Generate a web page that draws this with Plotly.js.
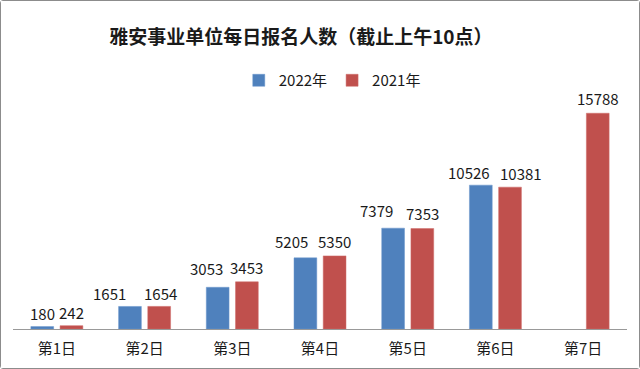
<!DOCTYPE html>
<html>
<head>
<meta charset="utf-8">
<script src="https://cdn.plot.ly/plotly-3.0.1.min.js"></script>
<style>
html,body{margin:0;padding:0;background:#fff;}
#chart{width:638px;height:367px;border:1px solid #8c8c8c;border-radius:3px;}
</style>
</head>
<body>
<div id="chart"></div>
<script>
const categories = ["第1日","第2日","第3日","第4日","第5日","第6日","第7日"];
const values2022 = [180,1651,3053,5205,7379,10526,null];
const values2021 = [242,1654,3453,5350,7353,10381,15788];
const seriesNames = ["2022年","2021年"];

// label nudges (pixels), as placed in the reference
const dx2022 = [0,-20,-11,-14,-17,-12,0];
const dy2022 = [13,13,19,16,18,13,0];
const dx2021 = [0,1,0,0,0,11,0];
const dy2021 = [13,13,14,14,15,14,15];

const font = '"Noto Sans CJK SC", "Noto Sans", sans-serif';
const barHalf = 14.6;

const traces = [
  {type:'bar', name:seriesNames[0], x:categories, y:values2022,
   marker:{color:'#4F81BD', line:{color:'#6a96cc', width:0.5}}},
  {type:'bar', name:seriesNames[1], x:categories, y:values2021,
   marker:{color:'#C0504D', line:{color:'#cf6d6a', width:0.5}}}
];

const annotations = [];
[[values2022, dx2022, dy2022, -barHalf],[values2021, dx2021, dy2021, barHalf]].forEach(([vals, dx, dy, off]) => {
  vals.forEach((v, i) => {
    if (v == null) return;
    annotations.push({x:categories[i], y:v, xref:'x', yref:'y', text:String(v), showarrow:false,
      xanchor:'center', yanchor:'middle', xshift:off + dx[i], yshift:dy[i],
      font:{size:15, color:'#1a1a1a', family:font}});
  });
});

const layout = {
  width:638, height:367,
  margin:{l:12, r:12, t:82, b:39},
  paper_bgcolor:'#fff', plot_bgcolor:'#fff',
  font:{family:font, color:'#333'},
  title:{text:'<b>雅安事业单位每日报名人数（截止上午10点）</b>', x:0.47, xanchor:'center', y:0.9, yanchor:'middle',
         font:{size:19, color:'#1a1a1a', family:font}},
  showlegend:true,
  legend:{orientation:'h', x:0.52, xanchor:'center', y:1.01, yanchor:'middle',
          font:{size:15, color:'#1a1a1a', family:font}, itemwidth:30, tracegroupgap:0},
  barmode:'group', bargap:0.334, bargroupgap:0.22,
  annotations:annotations,
  xaxis:{showline:true, linecolor:'#999', linewidth:1, ticks:'', showgrid:false, ticklabelstandoff:6,
         tickfont:{size:15, color:'#1a1a1a', family:font}},
  yaxis:{range:[0,18000], visible:false, showgrid:false, zeroline:false}
};

Plotly.newPlot('chart', traces, layout, {displayModeBar:false, staticPlot:true});
</script>
</body>
</html>
